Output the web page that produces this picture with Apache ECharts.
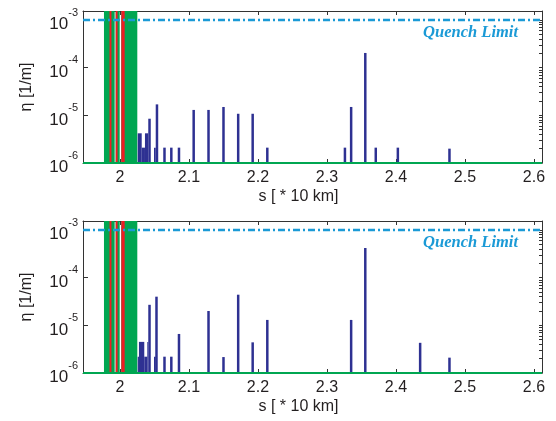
<!DOCTYPE html>
<html>
<head>
<meta charset="utf-8">
<script src="https://cdn.jsdelivr.net/npm/echarts@6/dist/echarts.min.js"></script>
<style>
  html, body { margin: 0; padding: 0; background: #ffffff; }
  #chart { width: 556px; height: 421px; }
</style>
</head>
<body>
<div id="chart"></div>
<script>
// ---------------- data ----------------
var xTicks = [2.0, 2.1, 2.2, 2.3, 2.4, 2.5, 2.6];
var yTicks = [1e-6, 1e-5, 1e-4, 1e-3];
var xMin = 1.9464, xMax = 2.6116;
var yMin = 1e-6, yMax = 1.55e-3;
var quenchLimit = 1e-3;

// green (collimator) blocks: [sStart, sEnd, eta]
var greenBlocks = [
  [1.9768, 1.9923, 1],
  [1.9938, 1.9996, 1],
  [2.0019, 2.0251, 1]
];
// red lines: [sStart, sEnd, eta]
var redBlocks = [
  [1.9848, 1.9876, 1],
  [1.9938, 1.9965, 1],
  [2.0019, 2.0068, 1]
];

// panel 1 blue losses
var blueBlocksTop = [
  [2.0257, 2.0315, 4.2e-6],
  [2.0315, 2.0362, 2.1e-6],
  [2.0362, 2.0410, 4.2e-6],
  [2.0493, 2.0518, 2.1e-6]
];
var blueSpikesTop = [
  [2.0428, 8.5e-6],
  [2.0536, 1.7e-5],
  [2.0645, 2.1e-6],
  [2.0744, 2.1e-6],
  [2.0855, 2.1e-6],
  [2.1068, 1.3e-5],
  [2.1283, 1.3e-5],
  [2.1500, 1.5e-5],
  [2.1713, 1.08e-5],
  [2.1923, 1.08e-5],
  [2.2135, 2.1e-6],
  [2.3260, 2.1e-6],
  [2.3350, 1.5e-5],
  [2.3555, 2.04e-4],
  [2.3707, 2.1e-6],
  [2.4027, 2.1e-6],
  [2.4775, 2.0e-6]
];

// panel 2 blue losses
var blueBlocksBot = [
  [2.0257, 2.0275, 2.2e-6],
  [2.0275, 2.0352, 4.5e-6],
  [2.0352, 2.0396, 2.2e-6],
  [2.0396, 2.0410, 4.5e-6],
  [2.0493, 2.0518, 2.2e-6]
];
var blueSpikesBot = [
  [2.0428, 2.7e-5],
  [2.0529, 4.0e-5],
  [2.0645, 2.2e-6],
  [2.0744, 2.2e-6],
  [2.0855, 6.6e-6],
  [2.1283, 2.0e-5],
  [2.1500, 2.16e-6],
  [2.1713, 4.4e-5],
  [2.1923, 4.4e-6],
  [2.2135, 1.3e-5],
  [2.3350, 1.3e-5],
  [2.3555, 4.2e-4],
  [2.4350, 4.3e-6],
  [2.4775, 2.1e-6]
];

// ---------------- styling ----------------
var BLUE = '#2e3192', GREEN = '#00a651', RED = '#ed1c24', QCOL = '#1b9ad6', FRAME = '#333333';
var FONT = '"Liberation Sans", Arial, sans-serif';

var minorTicks = [];
for (var e = -6; e <= -3; e++) {
  for (var m = 1; m <= 9; m++) {
    var v = m * Math.pow(10, e);
    if (v >= yMin && v <= yMax) minorTicks.push(v);
  }
}

function supLabel(v) {
  var ex = Math.round(Math.log10(v));
  return '{b|10}{s|' + ex + '}';
}

function blockItem(params, api) {
  var p0 = api.coord([api.value(0), api.value(2)]);
  var p1 = api.coord([api.value(1), yMin]);
  return {
    type: 'rect',
    shape: { x: p0[0], y: p0[1], width: Math.max(p1[0] - p0[0], 1), height: p1[1] - p0[1] },
    style: { fill: api.visual('color') }
  };
}
function spikeItem(params, api) {
  var p0 = api.coord([api.value(0), api.value(1)]);
  var p1 = api.coord([api.value(0), yMin]);
  var w = 2.5;
  return {
    type: 'rect',
    shape: { x: p0[0] - w / 2, y: p0[1], width: w, height: p1[1] - p0[1] },
    style: { fill: api.visual('color') }
  };
}

var grids = [
  { left: 83, right: 14, top: 11, height: 152 },
  { left: 83, right: 14, top: 221, height: 152 }
];

var xAxes = [], yAxes = [], series = [];
[0, 1].forEach(function (g) {
  xAxes.push({
    type: 'value', gridIndex: g, min: xMin, max: xMax, position: 'bottom',
    axisLine: { show: true, onZero: false, lineStyle: { color: FRAME, width: 1 } },
    axisTick: { show: true, inside: true, length: 4, customValues: xTicks, lineStyle: { color: FRAME } },
    axisLabel: { show: true, customValues: xTicks, margin: 7, fontSize: 16, fontFamily: FONT, color: '#231f20',
      formatter: function (v) { return String(Math.round(v * 10) / 10); } },
    splitLine: { show: false },
    name: 's [ * 10 km]', nameLocation: 'middle', nameGap: 26,
    nameTextStyle: { fontSize: 16, fontFamily: FONT, color: '#231f20', padding: [0, 28, 0, 0] }
  });
  xAxes.push({
    type: 'value', gridIndex: g, min: xMin, max: xMax, position: 'top',
    axisLine: { show: true, onZero: false, lineStyle: { color: FRAME, width: 1 } },
    axisTick: { show: true, inside: true, length: 4, customValues: xTicks, lineStyle: { color: FRAME } },
    axisLabel: { show: false }, splitLine: { show: false }
  });
  yAxes.push({
    type: 'log', logBase: 10, gridIndex: g, min: yMin, max: yMax, position: 'left',
    axisLine: { show: true, onZero: false, lineStyle: { color: FRAME, width: 1 } },
    axisTick: { show: true, inside: true, length: 5, customValues: yTicks, lineStyle: { color: FRAME } },
    axisLabel: { show: true, customValues: yTicks, margin: 5, formatter: supLabel,
      rich: {
        b: { fontSize: 17, fontFamily: FONT, color: '#231f20', lineHeight: 26, verticalAlign: 'bottom' },
        s: { fontSize: 11, fontFamily: FONT, color: '#231f20', lineHeight: 26, verticalAlign: 'top' }
      } },
    splitLine: { show: false },
    name: 'η [1/m]', nameLocation: 'middle', nameGap: 48,
    nameTextStyle: { fontSize: 16, fontFamily: FONT, color: '#231f20' }
  });
  yAxes.push({
    type: 'log', logBase: 10, gridIndex: g, min: yMin, max: yMax, position: 'right',
    axisLine: { show: true, onZero: false, lineStyle: { color: FRAME, width: 1 } },
    axisTick: { show: true, inside: true, length: 3, customValues: minorTicks, lineStyle: { color: FRAME } },
    axisLabel: { show: false }, splitLine: { show: false }
  });

  var xi = g * 2, yi = g * 2;
  series.push({ type: 'custom', xAxisIndex: xi, yAxisIndex: yi, clip: true, renderItem: blockItem,
    encode: { x: [0, 1], y: 2 }, itemStyle: { color: GREEN }, data: greenBlocks, z: 2, silent: true });
  series.push({ type: 'custom', xAxisIndex: xi, yAxisIndex: yi, clip: true, renderItem: blockItem,
    encode: { x: [0, 1], y: 2 }, itemStyle: { color: RED }, data: redBlocks, z: 3, silent: true });
  series.push({ type: 'custom', xAxisIndex: xi, yAxisIndex: yi, clip: true, renderItem: blockItem,
    encode: { x: [0, 1], y: 2 }, itemStyle: { color: BLUE }, data: g === 0 ? blueBlocksTop : blueBlocksBot, z: 3, silent: true });
  series.push({ type: 'custom', xAxisIndex: xi, yAxisIndex: yi, clip: true, renderItem: spikeItem,
    encode: { x: 0, y: 1 }, itemStyle: { color: BLUE }, data: g === 0 ? blueSpikesTop : blueSpikesBot, z: 3, silent: true });
  // quench limit line
  series.push({ type: 'line', xAxisIndex: xi, yAxisIndex: yi, clip: false, symbol: 'none', silent: true, z: 5,
    data: [[xMin, quenchLimit], [xMax, quenchLimit]],
    lineStyle: { color: QCOL, width: 2.5, type: [7, 3, 2, 3] } });
  // green baseline
  series.push({ type: 'line', xAxisIndex: xi, yAxisIndex: yi, clip: false, symbol: 'none', silent: true, z: 6,
    data: [[xMin, yMin], [xMax, yMin]],
    lineStyle: { color: GREEN, width: 2.2, type: 'solid' } });
});

var chart = echarts.init(document.getElementById('chart'), null, { renderer: 'canvas' });
chart.setOption({
  animation: false,
  backgroundColor: '#ffffff',
  grid: grids,
  xAxis: xAxes,
  yAxis: yAxes,
  series: series,
  graphic: [
    { type: 'text', right: 38, top: 24, z: 10,
      style: { text: 'Quench Limit', font: 'italic bold 16.5px "Liberation Serif", "Times New Roman", serif', fill: QCOL } },
    { type: 'text', right: 38, top: 234, z: 10,
      style: { text: 'Quench Limit', font: 'italic bold 16.5px "Liberation Serif", "Times New Roman", serif', fill: QCOL } }
  ]
});
</script>
</body>
</html>
